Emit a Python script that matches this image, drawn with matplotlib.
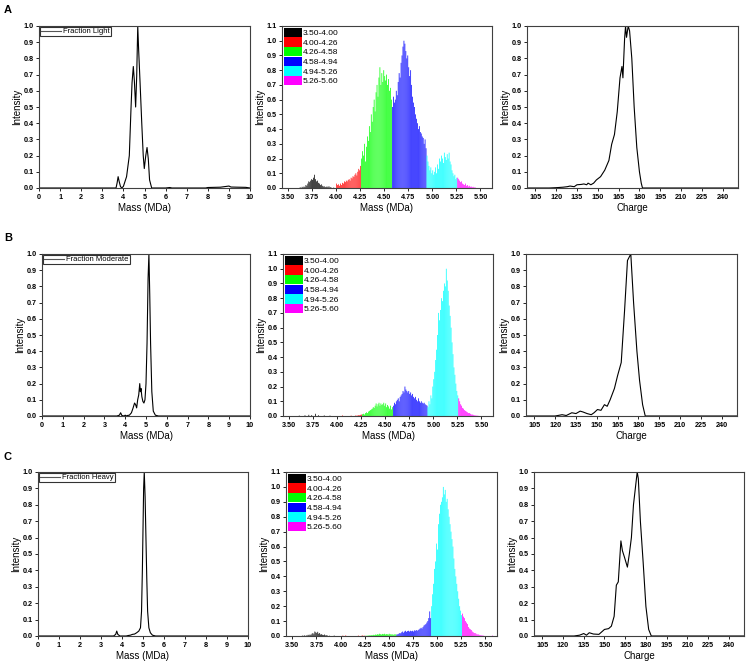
"""
Mass / charge distributions for the three fractions (light, moderate, heavy)
"""
import numpy as np
import matplotlib
matplotlib.use("Agg")
import matplotlib.pyplot as plt
from matplotlib.patches import Patch

plt.rcParams['font.family'] = ['Liberation Sans', 'DejaVu Sans']

# ---- left column: mass spectra (line) ----
mass_light_x = [0, 3.5, 3.65, 3.70, 3.75, 3.80, 3.86, 3.92, 4.00, 4.15, 4.28, 4.36, 4.41, 4.47,
                4.52, 4.58, 4.63, 4.68, 4.72, 4.79, 4.87, 4.94, 4.99, 5.06, 5.12, 5.18, 5.24, 5.34,
                6.0, 6.2, 6.3, 7.9, 8.0, 8.3, 8.6, 9.0, 9.1, 9.4, 9.8, 10]
mass_light_y = [0, 0, 0, 0.03, 0.07, 0.04, 0.01, 0.0, 0.01, 0.07, 0.2, 0.49, 0.65, 0.75,
                0.66, 0.5, 0.69, 1.0, 0.86, 0.65, 0.4, 0.2, 0.12, 0.2, 0.25, 0.18, 0.05, 0.0,
                0.0, 0.003, 0, 0, 0.003, 0.004, 0.005, 0.012, 0.006, 0.005, 0.004, 0.0]

mass_moderate_x = [0, 3.6, 3.72, 3.78, 3.84, 3.95, 4.0, 4.05, 4.1, 4.2, 4.3, 4.38, 4.45, 4.5, 4.55,
                   4.6, 4.65, 4.7, 4.73, 4.76, 4.8, 4.85, 4.9, 4.95, 5.0, 5.05, 5.1, 5.14, 5.18,
                   5.22, 5.28, 5.35, 5.45, 5.6, 10]
mass_moderate_y = [0, 0, 0.005, 0.02, 0.003, 0, 0.005, 0, 0.003, 0.005, 0.02, 0.05, 0.08, 0.07, 0.05,
                   0.1, 0.13, 0.2, 0.15, 0.17, 0.12, 0.09, 0.08, 0.1, 0.2, 0.45, 0.85, 1.0, 0.75,
                   0.45, 0.15, 0.03, 0.005, 0, 0]

mass_heavy_x = [0, 3.6, 3.7, 3.75, 3.8, 3.9, 4.2, 4.3, 4.4, 4.5, 4.6, 4.7, 4.8, 4.88, 4.93, 4.97,
                5.0, 5.03, 5.06, 5.1, 5.14, 5.18, 5.22, 5.28, 5.35, 5.45, 5.6, 10]
mass_heavy_y = [0, 0, 0.01, 0.03, 0.01, 0, 0, 0.003, 0.005, 0.01, 0.012, 0.02, 0.03, 0.05, 0.15, 0.4,
                0.65, 0.9, 1.0, 0.85, 0.6, 0.35, 0.15, 0.05, 0.02, 0.005, 0, 0]

# ---- middle column: mass histograms, 0.01 MDa bins from 3.50 ----
bin_start = 3.50
bin_width = 0.01
range_edges = [3.50, 4.00, 4.26, 4.58, 4.94, 5.26, 5.60]
range_labels = ["3.50-4.00", "4.00-4.26", "4.26-4.58", "4.58-4.94", "4.94-5.26", "5.26-5.60"]
range_colors = ["#000000", "#ff0000", "#00ff00", "#0000ff", "#00ffff", "#ff00ff"]

hist_light = [
    # 3.50-3.99
    0, 0, 0, 0, 0, 0, 0, 0, 0, 0,
    0, 0, 0.005, 0, 0.008, 0.004, 0.01, 0.006, 0.02, 0.015,
    0.03, 0.045, 0.04, 0.05, 0.06, 0.055, 0.07, 0.09, 0.06, 0.045,
    0.05, 0.035, 0.03, 0.02, 0.025, 0.015, 0.01, 0.012, 0.006, 0.008,
    0.01, 0.005, 0.012, 0.004, 0.006, 0, 0, 0.003, 0, 0,
    # 4.00-4.25
    0.03, 0.02, 0.025, 0.015, 0.03, 0.02, 0.035, 0.03, 0.045, 0.04,
    0.05, 0.045, 0.055, 0.06, 0.05, 0.07, 0.065, 0.08, 0.075, 0.09,
    0.1, 0.085, 0.11, 0.13, 0.12, 0.15,
    # 4.26-4.57
    0.2, 0.25, 0.22, 0.3, 0.18, 0.28, 0.35, 0.32, 0.42, 0.38,
    0.5, 0.45, 0.55, 0.6, 0.52, 0.65, 0.7, 0.62, 0.75, 0.82,
    0.7, 0.78, 0.72, 0.8, 0.76, 0.73, 0.77, 0.7, 0.74, 0.66,
    0.68, 0.6,
    # 4.58-4.93
    0.55, 0.62, 0.58, 0.6, 0.66, 0.63, 0.72, 0.78, 0.75, 0.85,
    0.9, 0.96, 1.0, 0.98, 0.93, 0.88, 0.9, 0.82, 0.76, 0.8,
    0.7, 0.62, 0.58, 0.55, 0.5, 0.47, 0.44, 0.4, 0.42, 0.38,
    0.37, 0.35, 0.34, 0.3, 0.33, 0.27,
    # 4.94-5.25
    0.22, 0.18, 0.15, 0.12, 0.14, 0.1, 0.12, 0.09, 0.11, 0.14,
    0.1, 0.16, 0.13, 0.2, 0.18, 0.22, 0.2, 0.17, 0.24, 0.21,
    0.19, 0.23, 0.2, 0.24, 0.18, 0.16, 0.12, 0.1, 0.08, 0.09,
    0.06, 0.07,
    # 5.26-5.59
    0.07, 0.06, 0.05, 0.04, 0.045, 0.03, 0.025, 0.02, 0.03, 0.015,
    0.02, 0.01, 0.015, 0.008, 0.01, 0.005, 0.008, 0.003, 0.005, 0,
    0, 0, 0, 0, 0, 0, 0, 0, 0, 0,
    0, 0, 0, 0,
]

hist_moderate = [
    # 3.50-3.99
    0, 0, 0, 0, 0, 0, 0, 0, 0, 0,
    0.003, 0, 0, 0, 0, 0, 0.005, 0, 0, 0,
    0.008, 0, 0, 0.006, 0, 0, 0, 0.015, 0, 0,
    0.005, 0, 0, 0, 0, 0, 0.004, 0, 0, 0,
    0, 0, 0.003, 0, 0, 0, 0, 0, 0, 0,
    # 4.00-4.25
    0, 0, 0, 0, 0, 0.004, 0, 0, 0, 0,
    0, 0, 0, 0, 0.003, 0, 0, 0, 0, 0.005,
    0, 0.004, 0.006, 0.005, 0.008, 0.01,
    # 4.26-4.57
    0.012, 0.015, 0.01, 0.02, 0.025, 0.02, 0.03, 0.035, 0.04, 0.045,
    0.05, 0.06, 0.055, 0.07, 0.085, 0.065, 0.08, 0.09, 0.07, 0.085,
    0.075, 0.08, 0.09, 0.07, 0.085, 0.06, 0.075, 0.065, 0.05, 0.07,
    0.045, 0.06,
    # 4.58-4.93
    0.07, 0.09, 0.08, 0.1, 0.11, 0.12, 0.1, 0.13, 0.14, 0.15,
    0.17, 0.16, 0.2, 0.18, 0.17, 0.16, 0.17, 0.15, 0.16, 0.14,
    0.15, 0.13, 0.12, 0.13, 0.11, 0.1, 0.12, 0.1, 0.09, 0.1,
    0.09, 0.085, 0.09, 0.08, 0.075, 0.07,
    # 4.94-5.25
    0.06, 0.1, 0.08, 0.14, 0.12, 0.2, 0.25, 0.3, 0.38, 0.45,
    0.55, 0.7, 0.65, 0.72, 0.8, 0.78, 0.85, 0.9, 0.88, 1.0,
    0.92, 0.85, 0.75, 0.68, 0.6, 0.5, 0.42, 0.33, 0.28, 0.22,
    0.17, 0.14,
    # 5.26-5.59
    0.12, 0.1, 0.08, 0.07, 0.055, 0.05, 0.04, 0.035, 0.03, 0.025,
    0.02, 0.02, 0.015, 0.01, 0.01, 0.008, 0.005, 0.004, 0.003, 0.002,
    0.002, 0, 0, 0, 0, 0, 0, 0, 0, 0,
    0, 0, 0, 0,
]

hist_heavy = [
    # 3.50-3.99
    0, 0, 0, 0, 0, 0, 0, 0, 0, 0,
    0.003, 0, 0.005, 0, 0.004, 0.003, 0.008, 0.005, 0.01, 0.006,
    0.015, 0.02, 0.012, 0.03, 0.025, 0.02, 0.028, 0.015, 0.02, 0.01,
    0.012, 0.008, 0.006, 0.01, 0.004, 0.005, 0.003, 0, 0.002, 0,
    0, 0, 0, 0.003, 0, 0, 0, 0, 0, 0,
    # 4.00-4.25
    0, 0, 0.003, 0, 0, 0.004, 0, 0, 0, 0,
    0, 0, 0, 0, 0, 0, 0, 0, 0.003, 0,
    0, 0, 0.005, 0, 0.003, 0,
    # 4.26-4.57
    0.003, 0, 0.004, 0.003, 0.005, 0.004, 0.006, 0.005, 0.008, 0.006,
    0.01, 0.008, 0.012, 0.01, 0.015, 0.012, 0.01, 0.014, 0.012, 0.015,
    0.01, 0.013, 0.012, 0.01, 0.015, 0.012, 0.01, 0.012, 0.008, 0.01,
    0.012, 0.01,
    # 4.58-4.93
    0.01, 0.012, 0.015, 0.02, 0.018, 0.025, 0.03, 0.022, 0.03, 0.035,
    0.028, 0.033, 0.035, 0.03, 0.035, 0.032, 0.035, 0.03, 0.038, 0.035,
    0.04, 0.035, 0.04, 0.045, 0.05, 0.055, 0.05, 0.06, 0.07, 0.075,
    0.08, 0.09, 0.1, 0.12, 0.165, 0.12,
    # 4.94-5.25
    0.2, 0.28, 0.35, 0.45, 0.5, 0.62, 0.58, 0.75, 0.82, 0.88,
    0.9, 0.93, 1.0, 0.95, 0.98, 0.9, 0.92, 0.85, 0.8, 0.75,
    0.7, 0.65, 0.6, 0.52, 0.45, 0.4, 0.35, 0.3, 0.25, 0.2,
    0.17, 0.14,
    # 5.26-5.59
    0.15, 0.13, 0.12, 0.1, 0.09, 0.08, 0.06, 0.05, 0.045, 0.04,
    0.03, 0.025, 0.02, 0.02, 0.015, 0.01, 0.012, 0.008, 0.006, 0.005,
    0.004, 0.003, 0.002, 0, 0, 0, 0, 0, 0, 0,
    0, 0.003, 0, 0,
]

# ---- right column: charge spectra (line) ----
charge_light_x = [99, 115, 120, 125, 128, 130, 133, 135, 138, 140, 142, 143, 145, 147, 149, 152, 155,
                  158, 160, 162, 164, 166, 167.4, 168.1, 169.3, 170, 170.7, 171.9, 172.9, 174.5,
                  176.2, 178.1, 180, 181.3, 182.2, 251]
charge_light_y = [0, 0, 0.002, 0.005, 0.008, 0.012, 0.008, 0.02, 0.022, 0.025, 0.02, 0.03, 0.02, 0.03,
                  0.05, 0.07, 0.11, 0.17, 0.27, 0.33, 0.47, 0.68, 0.75, 0.68, 0.92, 1.0, 0.93, 1.0,
                  0.97, 0.8, 0.5, 0.25, 0.1, 0.03, 0, 0]

charge_moderate_x = [99, 120, 125, 128, 132, 135, 138, 140, 143, 146, 148, 150.5, 153, 155.5, 157.5,
                     159.6, 162.7, 165, 167.6, 170, 172.1, 174.5, 176.5, 178.9, 180.8, 183, 184.9, 251]
charge_moderate_y = [0, 0, 0.008, 0.003, 0.02, 0.015, 0.03, 0.025, 0.015, 0.008, 0.02, 0.04, 0.035,
                     0.07, 0.06, 0.1, 0.17, 0.25, 0.33, 0.65, 0.96, 1.0, 0.7, 0.4, 0.22, 0.07, 0, 0]

charge_heavy_x = [99, 128, 132, 135, 137, 139, 142, 146, 150, 153, 155, 157, 158.6, 160, 161.9, 163,
                  164.5, 166.6, 168, 169.5, 171, 173.7, 174.5, 176, 178, 180, 182, 183.9, 251]
charge_heavy_y = [0, 0, 0.005, 0.015, 0.005, 0.02, 0.012, 0.01, 0.04, 0.045, 0.06, 0.12, 0.31, 0.33,
                  0.58, 0.52, 0.48, 0.42, 0.5, 0.6, 0.8, 1.0, 0.96, 0.7, 0.45, 0.18, 0.04, 0, 0]

fraction_names = ["Fraction Light", "Fraction Moderate", "Fraction Heavy"]
panel_letters = ["A", "B", "C"]

# axes boxes in pixels (x0, x1, y_top, y_bottom) measured on a 747x667 canvas
W, H = 747, 667
row_y = [(26, 188), (254, 416), (472, 636)]
col_x = [
    [(39, 250), (282, 492), (527, 738)],
    [(42, 250), (283, 493), (526, 737)],
    [(38, 248), (286, 497), (534, 744)],
]
letter_y = [10, 238, 457]

SPINE = "#404040"


def make_axes(fig, x0, x1, y0, y1):
    ax = fig.add_axes([x0 / W, 1 - y1 / H, (x1 - x0) / W, (y1 - y0) / H])
    for s in ax.spines.values():
        s.set_linewidth(0.8)
        s.set_color(SPINE)
    ax.tick_params(direction='out', length=2.5, width=0.6, pad=1.5, labelsize=5.2,
                   colors='black', top=False, right=False)
    return ax


def style_labels(ax, xlabel):
    ax.set_xlabel(xlabel, fontsize=7, labelpad=2)
    ax.set_ylabel("Intensity", fontsize=7, labelpad=1)
    for t in ax.get_xticklabels() + ax.get_yticklabels():
        t.set_fontweight('bold')


fig = plt.figure(figsize=(W / 100, H / 100), dpi=100)

mass_lines = [(mass_light_x, mass_light_y), (mass_moderate_x, mass_moderate_y),
              (mass_heavy_x, mass_heavy_y)]
hists = [hist_light, hist_moderate, hist_heavy]
charge_lines = [(charge_light_x, charge_light_y), (charge_moderate_x, charge_moderate_y),
                (charge_heavy_x, charge_heavy_y)]

for r in range(3):
    yt, yb = row_y[r]
    (lx0, lx1), (mx0, mx1), (rx0, rx1) = col_x[r]

    # left: mass line
    ax = make_axes(fig, lx0, lx1, yt, yb)
    mx, my = mass_lines[r]
    ax.plot(mx, my, color='black', lw=0.8, label=fraction_names[r])
    ax.set_xlim(0, 10)
    ax.set_ylim(0, 1.0)
    ax.set_xticks(range(0, 11))
    ax.set_yticks(np.round(np.arange(0, 1.01, 0.1), 1))
    ax.yaxis.set_major_formatter(plt.FormatStrFormatter('%.1f'))
    leg = ax.legend(loc='upper left', fontsize=5.5, frameon=True, fancybox=False,
                    borderaxespad=0.1, borderpad=0.15, handlelength=2.6, handletextpad=0.3)
    leg.get_frame().set_edgecolor('black')
    leg.get_frame().set_linewidth(0.8)
    leg.get_lines()[0].set_color('#555555')
    style_labels(ax, "Mass (MDa)")
    fig.text(4 / W, 1 - letter_y[r] / H, panel_letters[r], fontsize=8, fontweight='bold',
             va='center', ha='left')

    # middle: coloured histogram
    ax = make_axes(fig, mx0, mx1, yt, yb)
    heights = np.array(hists[r])
    lefts = bin_start + bin_width * np.arange(len(heights))
    idx = np.searchsorted(range_edges, lefts + 1e-6, side='right') - 1
    idx = np.clip(idx, 0, len(range_colors) - 1)
    colors = [range_colors[i] for i in idx]
    ax.bar(lefts, heights, width=bin_width * 0.75, align='edge', color=colors, linewidth=0,
           snap=False)
    ax.set_xlim(3.435, 5.62)
    ax.set_ylim(0, 1.1)
    ax.set_xticks(np.arange(3.5, 5.51, 0.25))
    ax.xaxis.set_major_formatter(plt.FormatStrFormatter('%.2f'))
    ax.set_yticks(np.round(np.arange(0, 1.11, 0.1), 1))
    ax.yaxis.set_major_formatter(plt.FormatStrFormatter('%.1f'))
    handles = [Patch(facecolor=c, edgecolor='none', label=l) for c, l in zip(range_colors, range_labels)]
    ax.legend(handles=handles, loc='upper left', fontsize=6, frameon=False,
              borderaxespad=0.1, borderpad=0.1, handlelength=2.2, handleheight=1.35,
              handletextpad=0.1, labelspacing=0.02)
    style_labels(ax, "Mass (MDa)")

    # right: charge line
    ax = make_axes(fig, rx0, rx1, yt, yb)
    cx, cy = charge_lines[r]
    ax.plot(cx, cy, color='black', lw=0.8)
    ax.set_xlim(99, 251)
    ax.set_ylim(0, 1.0)
    ax.set_xticks(range(105, 241, 15))
    ax.set_yticks(np.round(np.arange(0, 1.01, 0.1), 1))
    ax.yaxis.set_major_formatter(plt.FormatStrFormatter('%.1f'))
    style_labels(ax, "Charge")

fig.savefig("out.png", dpi=100)
plt.close(fig)
